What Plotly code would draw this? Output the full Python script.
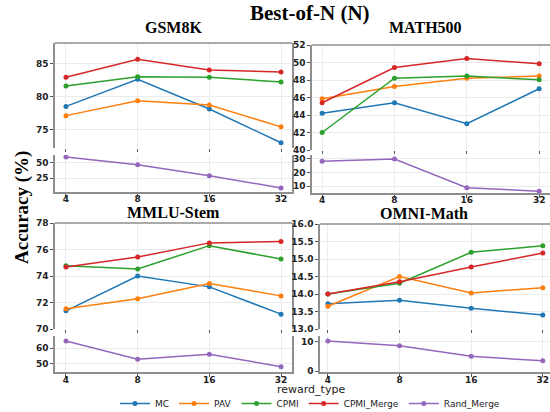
import plotly.graph_objects as go

N_LABELS = ["4", "8", "16", "32"]
SERIES = ["MC", "PAV", "CPMI", "CPMI_Merge"]
RAND = "Rand_Merge"
COLORS = {"MC": "#1f77b4", "PAV": "#ff7f0e", "CPMI": "#2ca02c",
          "CPMI_Merge": "#d62728", "Rand_Merge": "#9467bd"}

DATASETS = ["GSM8K", "MATH500", "MMLU-Stem", "OMNI-Math"]

gsm8k_mc = [78.5, 82.6, 78.1, 73.0]
gsm8k_pav = [77.1, 79.35, 78.7, 75.4]
gsm8k_cpmi = [81.6, 83.0, 82.9, 82.2]
gsm8k_cpmi_merge = [82.9, 85.65, 84.0, 83.7]
gsm8k_rand_merge = [59.1, 46.8, 29.2, 9.5]

math500_mc = [44.2, 45.4, 43.0, 47.0]
math500_pav = [45.85, 47.25, 48.2, 48.45]
math500_cpmi = [42.0, 48.2, 48.45, 48.03]
math500_cpmi_merge = [45.4, 49.43, 50.45, 49.85]
math500_rand_merge = [28.1, 29.8, 8.8, 6.2]

mmlu_mc = [71.37, 74.0, 73.18, 71.12]
mmlu_pav = [71.52, 72.28, 73.44, 72.5]
mmlu_cpmi = [74.78, 74.53, 76.29, 75.28]
mmlu_cpmi_merge = [74.68, 75.43, 76.5, 76.6]
mmlu_rand_merge = [64.6, 53.0, 56.2, 48.3]

omni_mc = [13.72, 13.82, 13.59, 13.40]
omni_pav = [13.65, 14.5, 14.03, 14.18]
omni_cpmi = [14.0, 14.31, 15.19, 15.38]
omni_cpmi_merge = [14.0, 14.35, 14.77, 15.17]
omni_rand_merge = [10.2, 8.6, 5.0, 3.5]

top_values = [
    [gsm8k_mc, gsm8k_pav, gsm8k_cpmi, gsm8k_cpmi_merge],
    [math500_mc, math500_pav, math500_cpmi, math500_cpmi_merge],
    [mmlu_mc, mmlu_pav, mmlu_cpmi, mmlu_cpmi_merge],
    [omni_mc, omni_pav, omni_cpmi, omni_cpmi_merge],
]
bottom_values = [gsm8k_rand_merge, math500_rand_merge, mmlu_rand_merge, omni_rand_merge]

top_ticks = [[75, 80, 85], [40, 42, 44, 46, 48, 50, 52], [70, 72, 74, 76, 78],
             [13.0, 13.5, 14.0, 14.5, 15.0, 15.5, 16.0]]
top_ticktext = [["75", "80", "85"], ["40", "42", "44", "46", "48", "50", "52"],
                ["70", "72", "74", "76", "78"],
                ["13.0", "13.5", "14.0", "14.5", "15.0", "15.5", "16.0"]]
bottom_ticks = [[25, 50], [10, 20, 30], [50, 60], [0, 10]]

# layout geometry (pixels in a 550x412 canvas)
W, H = 550, 412
top_ranges = [[72.2, 88.1], [40, 52], [70, 78], [13, 16]]
bottom_ranges = [[3.1, 62.3], [4.9, 32.7], [44.9, 67.8], [-0.3, 11.9]]
x_px = [(55, 292), (312, 550), (55, 292), (320, 550)]
x_ranges = [[-0.153, 3.153], [-0.14, 3.15], [-0.153, 3.153], [-0.11, 3.10]]
top_px = [(43, 148), (45, 150), (223, 329), (224, 329)]
bot_px = [(155, 192), (155, 193), (336, 372), (336, 372)]
title_px = [(173, 28), (425, 28), (173, 212), (424, 213)]
label_standoff = [-6, -6, -5, -5]

AX_COLOR = "#8e8e8e"
GRID = "#ebebeb"
TICKFONT = dict(family="DejaVu Sans", size=9, color="#222", weight="bold")
SERIF = "Liberation Serif"

fig = go.Figure()
layout = {}
shapes = []
annotations = []

for p in range(4):
    ti, bi = 2 * p + 1, 2 * p + 2
    tx = "x" if ti == 1 else f"x{ti}"
    ty = "y" if ti == 1 else f"y{ti}"
    bx, by = f"x{bi}", f"y{bi}"
    for s, vals in zip(SERIES, top_values[p]):
        fig.add_trace(go.Scatter(
            x=N_LABELS, y=vals, name=s, mode="lines+markers",
            line=dict(color=COLORS[s], width=1.5),
            marker=dict(color=COLORS[s], size=5),
            xaxis=tx, yaxis=ty, showlegend=(p == 0)))
    fig.add_trace(go.Scatter(
        x=N_LABELS, y=bottom_values[p], name=RAND, mode="lines+markers",
        line=dict(color=COLORS[RAND], width=1.5),
        marker=dict(color=COLORS[RAND], size=5),
        xaxis=bx, yaxis=by, showlegend=(p == 0)))

    xd = [x_px[p][0] / W, x_px[p][1] / W]
    tdom = [1 - top_px[p][1] / H, 1 - top_px[p][0] / H]
    bdom = [1 - bot_px[p][1] / H, 1 - bot_px[p][0] / H]

    xcommon = dict(type="category", categoryorder="array", categoryarray=N_LABELS,
                   range=x_ranges[p], domain=xd, showgrid=True, gridcolor=GRID,
                   gridwidth=1, ticks="outside", ticklen=3, tickcolor="#555",
                   zeroline=False, tickfont=TICKFONT, automargin=False)
    layout["xaxis" if ti == 1 else f"xaxis{ti}"] = dict(
        xcommon, anchor=ty, showline=False, showticklabels=False)
    layout[f"xaxis{bi}"] = dict(
        xcommon, anchor=by, showline=True, linecolor=AX_COLOR, linewidth=1.5,
        showticklabels=True, ticklabelstandoff=label_standoff[p])

    ycommon = dict(showgrid=True, gridcolor=GRID, gridwidth=1, zeroline=False,
                   showline=True, mirror=True, linecolor=AX_COLOR, linewidth=1.5,
                   ticks="outside", ticklen=3, tickcolor="#555", tickfont=TICKFONT,
                   automargin=False)
    layout["yaxis" if ti == 1 else f"yaxis{ti}"] = dict(
        ycommon, anchor=tx, domain=tdom, range=top_ranges[p],
        tickvals=top_ticks[p], ticktext=top_ticktext[p])
    layout[f"yaxis{bi}"] = dict(
        ycommon, anchor=bx, domain=bdom, range=bottom_ranges[p],
        tickvals=bottom_ticks[p])

    shapes.append(dict(type="line", xref=f"{tx} domain", yref=f"{ty} domain",
                       x0=0, x1=1, y0=1, y1=1,
                       line=dict(color=AX_COLOR, width=1.5)))
    annotations.append(dict(text=f"<b>{DATASETS[p]}</b>", x=title_px[p][0] / W,
                            y=1 - title_px[p][1] / H, xref="paper", yref="paper",
                            xanchor="center", yanchor="middle", showarrow=False,
                            font=dict(family=SERIF, size=16, color="black")))

annotations.append(dict(text="<b>Best-of-N (N)</b>", x=310 / W, y=1 - 13 / H,
                        xref="paper", yref="paper", xanchor="center",
                        yanchor="middle", showarrow=False,
                        font=dict(family=SERIF, size=21, color="black")))
annotations.append(dict(text="<b>Accuracy (%)</b>", x=22 / W, y=1 - 208 / H,
                        xref="paper", yref="paper", xanchor="center",
                        yanchor="middle", showarrow=False, textangle=-90,
                        font=dict(family=SERIF, size=19, color="black")))
annotations.append(dict(text="reward_type", x=311 / W, y=1 - 389 / H,
                        xref="paper", yref="paper", xanchor="center",
                        yanchor="middle", showarrow=False,
                        font=dict(family="DejaVu Sans", size=11, color="#222")))

fig.update_layout(
    **layout,
    width=W, height=H,
    margin=dict(l=0, r=0, t=0, b=0, autoexpand=False),
    paper_bgcolor="white", plot_bgcolor="white",
    shapes=shapes, annotations=annotations,
    legend=dict(orientation="h", x=310 / W, y=-6 / H, xanchor="center",
                yanchor="bottom", font=dict(family="DejaVu Sans", size=9, color="#222"),
                itemwidth=30, bgcolor="rgba(0,0,0,0)", borderwidth=0,
                tracegroupgap=0),
)

fig.write_html("out.html", config={"displayModeBar": False},
               post_script="document.body.style.margin='0';document.body.style.padding='0';")
